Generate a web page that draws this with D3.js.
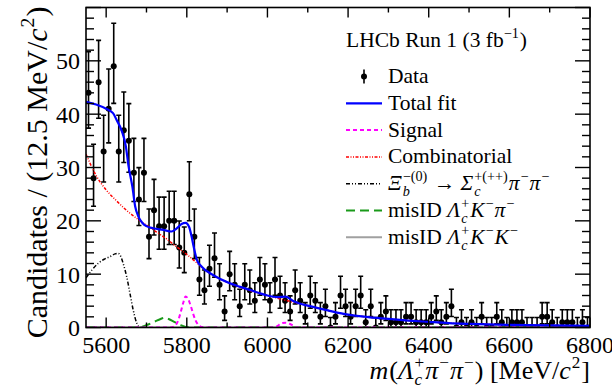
<!DOCTYPE html>
<html>
<head>
<meta charset="utf-8">
<script src="https://cdn.jsdelivr.net/npm/d3@7"></script>
<style>
  html, body { margin: 0; padding: 0; background: #fff; }
  svg text { font-family: "Liberation Serif", "Times New Roman", Times, serif; white-space: pre; fill: #000; }
</style>
</head>
<body>
<svg id="chart" width="612" height="385"></svg>
<script>
// ---------------- data ----------------
const massMin = 5550, massMax = 6800, binWidth = 12.5;
const xTickValues = [5600, 5800, 6000, 6200, 6400, 6600, 6800];
const yTickValues = [0, 10, 20, 30, 40, 50];

// candidates per 12.5 MeV bin, starting at 5550
const counts = [
  44, 28, 46, 33, 41, 49, 33, 37, 35, 29,
  24, 29, 17, 22, 19, 19, 20, 20, 15, 14,
  25, 17,  9,  7, 11, 13,  8,  3, 10,  8,
   4,  8,  7,  5,  9,  8,  5,  9,  6,  5,
   3,  7,  5,  2,  6,  5,  2,  4,  0,  2,
   6,  4,  2,  4,  6,  1,  4,  0,  2,  3,
   1,  1,  1,  2,  2,  1,  1,  1,  2,  3,
   1,  2,  4,  0,  1,  0,  1,  0,  2,  0,
   0,  2,  1,  0,  1,  1,  1,  0,  0,  0,
   2,  2,  1,  0,  1,  1,  1,  0,  1,  0
];

const totalFit = [[5550,42.3],[5575,41.8],[5600,41.0],[5617,40.2],[5626,38.9],[5638,37.0],[5649,33.9],[5655,30.5],[5665,26.4],[5672,22.7],[5680,20.8],[5690,19.6],[5700,19.0],[5717,18.6],[5742,18.3],[5762,18.0],[5775,18.6],[5787,19.4],[5797,19.6],[5806,18.8],[5812,17.0],[5818,14.8],[5825,12.7],[5837,11.4],[5866,9.8],[5907,8.3],[5950,7.2],[5982,6.4],[6000,6.0],[6025,5.7],[6045,5.8],[6065,4.9],[6080,4.5],[6100,4.1],[6150,3.2],[6200,2.4],[6250,1.95],[6300,1.6],[6350,1.3],[6400,1.05],[6450,0.82],[6500,0.68],[6600,0.5],[6700,0.38],[6800,0.3]];
const combinatorial = [[5550,32.5],[5575,28.5],[5600,25.8],[5625,23.8],[5650,22.0],[5675,20.5],[5700,19.2],[5725,17.9],[5750,16.6],[5775,15.1],[5800,13.7],[5825,12.1],[5850,10.5],[5875,9.4],[5900,8.5],[5950,7.1],[6000,6.0],[6050,5.0],[6100,4.1],[6150,3.2],[6200,2.4],[6250,1.95],[6300,1.6],[6350,1.3],[6400,1.05],[6450,0.82],[6500,0.68],[6600,0.5],[6700,0.38],[6800,0.3]];
const signal = [[5550,0],[5760,0],[5770,0.3],[5778,1.2],[5785,2.9],[5791,4.6],[5797,5.8],[5803,5.4],[5810,4.0],[5816,2.5],[5822,1.3],[5830,0.4],[5840,0.05],[5850,0],[6015,0],[6025,0.3],[6035,0.8],[6045,0.9],[6055,0.7],[6065,0.3],[6075,0],[6800,0]];
const xibBkg = [[5550,9.3],[5565,10.8],[5580,12.0],[5595,12.8],[5610,13.3],[5622,13.8],[5630,13.9],[5637,13.2],[5643,11.8],[5651,9.5],[5659,6.4],[5667,3.3],[5676,0.8],[5684,0],[5700,0]];
const misIDKpi = [[5550,0],[5680,0],[5700,0.45],[5720,1.1],[5735,1.6],[5745,1.85],[5755,1.6],[5770,1.0],[5785,0.45],[5800,0.05],[5815,0],[6800,0]];
const misIDKK = [[5550,0],[6800,0]];

// ---------------- layout ----------------
const svg = d3.select("#chart");
const L = 86, R = 590, T = 7.5, B = 327.5;
const x = d3.scaleLinear().domain([massMin, massMax]).range([L, R]);
const y = d3.scaleLinear().domain([0, 60]).range([B, T]);

svg.append("defs").append("clipPath").attr("id", "clip")
  .append("rect").attr("x", L).attr("y", T).attr("width", R - L).attr("height", B - T);

// rich text helper (super/subscripts, italics)
function rich(g, parts, size, subOff = 0.28) {
  const grp = g.append("g");
  let cx = 0;
  parts.forEach(p => {
    if (p.sup !== undefined || p.sub !== undefined) {
      let w = 0;
      if (p.sup !== undefined) {
        const t = grp.append("text").attr("x", cx).attr("y", -size * 0.42)
          .attr("font-size", size * 0.66).text(p.sup);
        w = Math.max(w, t.node().getComputedTextLength());
      }
      if (p.sub !== undefined) {
        const t = grp.append("text").attr("x", cx).attr("y", size * subOff)
          .attr("font-size", size * 0.66).attr("font-style", "italic").text(p.sub);
        w = Math.max(w, t.node().getComputedTextLength());
      }
      cx += w + 1;
    } else {
      const t = grp.append("text").attr("x", cx).attr("y", 0)
        .attr("font-size", size).attr("font-style", p.i ? "italic" : "normal").text(p.t);
      cx += t.node().getComputedTextLength() + (p.i ? 1 : 0);
    }
  });
  return { g: grp, width: cx };
}

// ---------------- data points ----------------
const binCenters = counts.map((c, i) => massMin + binWidth * (i + 0.5));
const dataG = svg.append("g").attr("clip-path", "url(#clip)");
counts.forEach((n, i) => {
  const cxp = x(binCenters[i]);
  const up = n + Math.sqrt(n + 0.75) + 1;
  const lo = n > 0 ? n - Math.sqrt(n - 0.25) : 0;
  dataG.append("line").attr("x1", cxp).attr("x2", cxp).attr("y1", y(lo)).attr("y2", y(up))
    .attr("stroke", "#000").attr("stroke-width", 1.6);
  dataG.append("line").attr("x1", cxp - 2.5).attr("x2", cxp + 2.5).attr("y1", y(up)).attr("y2", y(up))
    .attr("stroke", "#000").attr("stroke-width", 1.6);
  if (n > 0) dataG.append("line").attr("x1", cxp - 2.5).attr("x2", cxp + 2.5).attr("y1", y(lo)).attr("y2", y(lo))
    .attr("stroke", "#000").attr("stroke-width", 1.6);
  dataG.append("circle").attr("cx", cxp).attr("cy", y(n)).attr("r", 3).attr("fill", "#000");
});

// ---------------- fit curves ----------------
const line = d3.line().x(d => x(d[0])).y(d => y(d[1])).curve(d3.curveMonotoneX);
const curves = svg.append("g").attr("clip-path", "url(#clip)");
const styles = {
  kk:   { stroke: "#a0a0a0", width: 2, dash: null },
  kpi:  { stroke: "#1a9a1a", width: 2, dash: "9,5" },
  xib:  { stroke: "#000000", width: 1.5, dash: "4,2,1,2,1,2" },
  comb: { stroke: "#ff0000", width: 1.5, dash: "3,1.5,1,1.5,1,1.5" },
  sig:  { stroke: "#ff00ff", width: 2, dash: "4,3" },
  tot:  { stroke: "#0000ff", width: 2.2, dash: null }
};
function drawCurve(data, s) {
  const p = curves.append("path").datum(data).attr("d", line)
    .attr("fill", "none").attr("stroke", s.stroke).attr("stroke-width", s.width);
  if (s.dash) p.attr("stroke-dasharray", s.dash);
}
drawCurve(misIDKK, styles.kk);
drawCurve(misIDKpi, styles.kpi);
drawCurve(xibBkg, styles.xib);
drawCurve(combinatorial, styles.comb);
drawCurve(signal, styles.sig);
drawCurve(totalFit, styles.tot);

// ---------------- axes & frame ----------------
const ax = svg.append("g");
ax.append("rect").attr("x", L).attr("y", T).attr("width", R - L).attr("height", B - T)
  .attr("fill", "none").attr("stroke", "#000").attr("stroke-width", 1.6);

d3.range(5600, 6801, 100).forEach(v => {
  const len = v % 200 === 0 ? 10 : 5;
  ax.append("line").attr("x1", x(v)).attr("x2", x(v)).attr("y1", B).attr("y2", B - len)
    .attr("stroke", "#000").attr("stroke-width", 1.4);
  ax.append("line").attr("x1", x(v)).attr("x2", x(v)).attr("y1", T).attr("y2", T + len)
    .attr("stroke", "#000").attr("stroke-width", 1.4);
});
d3.range(0, 60.1, 2).forEach(v => {
  const len = v % 10 === 0 ? 15 : 8;
  ax.append("line").attr("x1", L).attr("x2", L + len).attr("y1", y(v)).attr("y2", y(v))
    .attr("stroke", "#000").attr("stroke-width", 1.4);
  ax.append("line").attr("x1", R).attr("x2", R - len).attr("y1", y(v)).attr("y2", y(v))
    .attr("stroke", "#000").attr("stroke-width", 1.4);
});
xTickValues.forEach(v => {
  ax.append("text").attr("x", x(v)).attr("y", 353).attr("text-anchor", "middle")
    .attr("font-size", 24).text(String(v));
});
yTickValues.forEach(v => {
  ax.append("text").attr("x", 80).attr("y", y(v) + 8.5).attr("text-anchor", "end")
    .attr("font-size", 24).text(String(v));
});

// axis titles
const xt = rich(svg, [{t:"m", i:true}, {t:"("}, {t:"Λ", i:true}, {sup:"+", sub:"c"}, {t:"π", i:true}, {sup:"−"},
  {t:"π", i:true}, {sup:"−"}, {t:") [MeV/"}, {t:"c", i:true}, {sup:"2"}, {t:"]"}], 26, 0.22);
xt.g.attr("transform", `translate(${R - xt.width},379)`);

const yt = rich(svg, [{t:"Candidates / (12.5 MeV/"}, {t:"c", i:true}, {sup:"2"}, {t:")"}], 30);
yt.g.attr("transform", `translate(47,${T - 1}) rotate(-90) translate(${-yt.width},0)`);

// ---------------- legend ----------------
const lg = svg.append("g");
const LS = 21.5;
const head = rich(lg, [{t:"LHCb Run 1 (3 fb"}, {sup:"−1"}, {t:")"}], LS);
head.g.attr("transform", "translate(346,47)");

const rowY = i => 76.5 + i * 26.8;
const lx1 = 346, lx2 = 382, tx = 388;
// Data marker
lg.append("line").attr("x1", 364).attr("x2", 364).attr("y1", rowY(0) - 7).attr("y2", rowY(0) + 7)
  .attr("stroke", "#000").attr("stroke-width", 1.6);
lg.append("circle").attr("cx", 364).attr("cy", rowY(0)).attr("r", 3).attr("fill", "#000");
const legendRows = [
  { key: "tot",  parts: [{t:"Total fit"}] },
  { key: "sig",  parts: [{t:"Signal"}] },
  { key: "comb", parts: [{t:"Combinatorial"}] },
  { key: "xib",  parts: [{t:"Ξ", i:true}, {sup:"−(0)", sub:"b"}, {t:" → "}, {t:"Σ", i:true}, {sup:"+(++)", sub:"c"},
                         {t:"π", i:true}, {sup:"−"}, {t:"π", i:true}, {sup:"−"}] },
  { key: "kpi",  parts: [{t:"misID "}, {t:"Λ", i:true}, {sup:"+", sub:"c"}, {t:"K", i:true}, {sup:"−"}, {t:"π", i:true}, {sup:"−"}] },
  { key: "kk",   parts: [{t:"misID "}, {t:"Λ", i:true}, {sup:"+", sub:"c"}, {t:"K", i:true}, {sup:"−"}, {t:"K", i:true}, {sup:"−"}] }
];
const d0 = rich(lg, [{t:"Data"}], LS);
d0.g.attr("transform", `translate(${tx},${rowY(0) + 6.5})`);
legendRows.forEach((r, k) => {
  const i = k + 1;
  const s = styles[r.key];
  const ln = lg.append("line").attr("x1", lx1).attr("x2", lx2).attr("y1", rowY(i)).attr("y2", rowY(i))
    .attr("stroke", s.stroke).attr("stroke-width", s.width);
  if (s.dash) ln.attr("stroke-dasharray", s.dash);
  const t = rich(lg, r.parts, LS);
  t.g.attr("transform", `translate(${tx},${rowY(i) + 6.5})`);
});
</script>
</body>
</html>
